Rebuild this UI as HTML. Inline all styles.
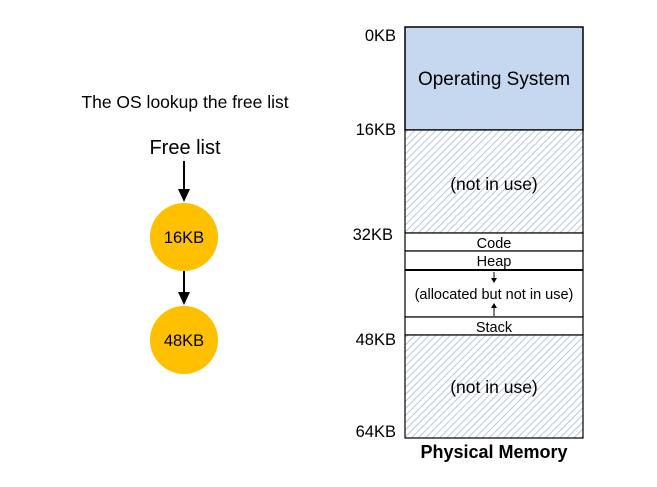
<!DOCTYPE html>
<html><head><meta charset="utf-8"><style>
html,body{margin:0;padding:0;background:#fff;width:657px;height:487px;overflow:hidden}
svg{display:block}
text{font-family:"Liberation Sans","Noto Sans CJK KR",sans-serif;fill:#000}
</style></head><body>
<svg width="657" height="487" viewBox="0 0 657 487" xmlns="http://www.w3.org/2000/svg">
<defs>
<pattern id="h" width="5" height="5" patternUnits="userSpaceOnUse" patternTransform="rotate(45)">
<rect width="5" height="5" fill="#fff"/>
<line x1="0" y1="0" x2="0" y2="5" stroke="#b8c7dc" stroke-width="2"/>
</pattern>
</defs>
<text x="185" y="108" font-size="17.5" text-anchor="middle">The OS lookup the free list</text>
<text x="185" y="154" font-size="20" text-anchor="middle">Free list</text>
<line x1="184" y1="161" x2="184" y2="192" stroke="#000" stroke-width="2"/>
<path d="M178,189 L190,189 L184,202 z" fill="#000"/>
<circle cx="184" cy="237" r="34" fill="#ffc000"/>
<text x="184" y="243" font-size="16.5" text-anchor="middle">16KB</text>
<line x1="184" y1="271" x2="184" y2="295" stroke="#000" stroke-width="2"/>
<path d="M178,292 L190,292 L184,305 z" fill="#000"/>
<circle cx="184" cy="340" r="34" fill="#ffc000"/>
<text x="184" y="346" font-size="16.5" text-anchor="middle">48KB</text>

<rect x="405" y="27" width="178" height="103" fill="#c5d8ef" stroke="#000" stroke-width="1.5"/>
<text x="494" y="85" font-size="19" text-anchor="middle">Operating System</text>
<rect x="405" y="130" width="178" height="103" fill="url(#h)" stroke="#000" stroke-width="1.2"/>
<text x="494" y="190" font-size="17.5" text-anchor="middle">(not in use)</text>
<rect x="405" y="233" width="178" height="18" fill="#fff" stroke="#000" stroke-width="1.2"/>
<text x="494" y="248" font-size="14.5" text-anchor="middle">Code</text>
<rect x="405" y="251" width="178" height="19" fill="#fff" stroke="#000" stroke-width="1.2"/>
<text x="494" y="266" font-size="14.5" text-anchor="middle">Heap</text>
<rect x="405" y="270" width="178" height="47" fill="#fff" stroke="#000" stroke-width="1.2"/>
<line x1="405" y1="270" x2="583" y2="270" stroke="#000" stroke-width="2"/>
<line x1="494" y1="272" x2="494" y2="279" stroke="#000" stroke-width="1"/>
<path d="M491,278 L497,278 L494,283 z" fill="#000"/>
<text x="494" y="299" font-size="14.5" text-anchor="middle">(allocated but not in use)</text>
<line x1="494" y1="307" x2="494" y2="316" stroke="#000" stroke-width="1"/>
<path d="M491,308 L497,308 L494,303 z" fill="#000"/>
<rect x="405" y="317" width="178" height="18" fill="#fff" stroke="#000" stroke-width="1.2"/>
<text x="494" y="332" font-size="14.5" text-anchor="middle">Stack</text>
<rect x="405" y="335" width="178" height="103" fill="url(#h)" stroke="#000" stroke-width="1.2"/>
<text x="494" y="393" font-size="17.5" text-anchor="middle">(not in use)</text>

<text x="396" y="41" font-size="16.5" text-anchor="end">0KB</text>
<text x="396" y="135" font-size="16.5" text-anchor="end">16KB</text>
<text x="393" y="240" font-size="16.5" text-anchor="end">32KB</text>
<text x="396" y="345" font-size="16.5" text-anchor="end">48KB</text>
<text x="396" y="437" font-size="16.5" text-anchor="end">64KB</text>
<text x="494" y="458" font-size="18" font-weight="bold" text-anchor="middle">Physical Memory</text>
</svg>
</body></html>
